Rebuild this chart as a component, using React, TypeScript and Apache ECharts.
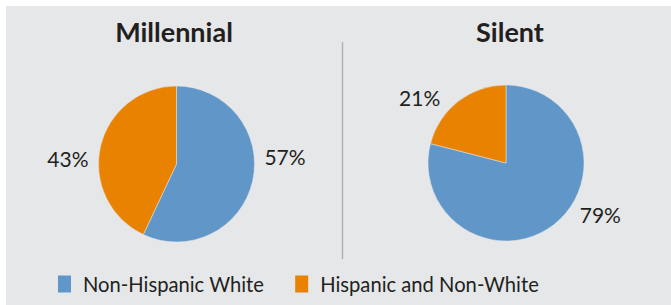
import React, { useEffect, useRef } from "react";
import * as echarts from "echarts";

const categories = ["Non-Hispanic White", "Hispanic and Non-White"];
const generations = ["Millennial", "Silent"];
const millennialValues = [57, 43];
const silentValues = [79, 21];

// small nudges [dx, dy] applied to the library's outside label placement
const labelNudges = [
  [[0, -26], [0, 13]],
  [[17, -16], [-9, 2]],
];

const BLUE = "#6097c8";
const ORANGE = "#e88200";
const TEXT = "#231f20";
const FONT = "Lato, 'Open Sans', sans-serif";

export default function App() {
  const ref = useRef<HTMLDivElement>(null);
  useEffect(() => {
    document.body.style.margin = "0";
    const chart = echarts.init(ref.current!, null, { renderer: "svg" });
    const mkData = (vals: number[]) =>
      vals.map((v, i) => ({ name: categories[i], value: v }));
    const pieBase = {
      type: "pie" as const,
      radius: 78,
      startAngle: 90,
      clockwise: true,
      label: {
        show: true,
        position: "outside",
        formatter: "{c}%",
        color: TEXT,
        fontFamily: FONT,
        fontSize: 21,
        distanceToLabelLine: 0,
      },
      labelLine: { show: false, length: 8, length2: 4 },
      labelLayout: (p: any) => {
        const n = labelNudges[p.seriesIndex][p.dataIndex];
        return { dx: n[0], dy: n[1] };
      },
      itemStyle: { borderColor: "#e6e7e9", borderWidth: 0.5 },
      emphasis: { disabled: true },
      silent: true,
    };
    chart.setOption({
      animation: false,
      color: [BLUE, ORANGE],
      graphic: [
        {
          type: "rect",
          z: -10,
          silent: true,
          shape: { x: 6, y: 6, width: 665, height: 299 },
          style: { fill: "#e6e7e9" },
        },
        {
          type: "line",
          silent: true,
          shape: { x1: 342.5, y1: 42, x2: 342.5, y2: 259 },
          style: { stroke: "#b3b3b3", lineWidth: 1.5 },
        },
      ],
      title: [
        {
          text: generations[0],
          left: 169,
          top: 13,
          textAlign: "center",
          textStyle: { fontFamily: FONT, fontSize: 27, fontWeight: "bold", color: TEXT },
        },
        {
          text: generations[1],
          left: 505,
          top: 13,
          textAlign: "center",
          textStyle: { fontFamily: FONT, fontSize: 27, fontWeight: "bold", color: TEXT },
        },
      ],
      legend: {
        data: categories,
        left: 53,
        top: 269,
        icon: "rect",
        itemWidth: 13,
        itemHeight: 17,
        itemGap: 31,
        symbolKeepAspect: false,
        itemStyle: { borderWidth: 0 },
        selectedMode: false,
        textStyle: {
          fontFamily: FONT,
          fontSize: 20.2,
          color: TEXT,
          padding: [0, 0, 0, 7],
        },
      },
      series: [
        { ...pieBase, name: generations[0], center: [176.5, 164], data: mkData(millennialValues) },
        { ...pieBase, name: generations[1], center: [506, 163], data: mkData(silentValues) },
      ],
    });
    return () => chart.dispose();
  }, []);
  return (
    <div style={{ position: "absolute", left: 0, top: 0, width: 671, height: 305, background: "#fff" }}>
      <div ref={ref} style={{ width: 671, height: 305 }} />
    </div>
  );
}
